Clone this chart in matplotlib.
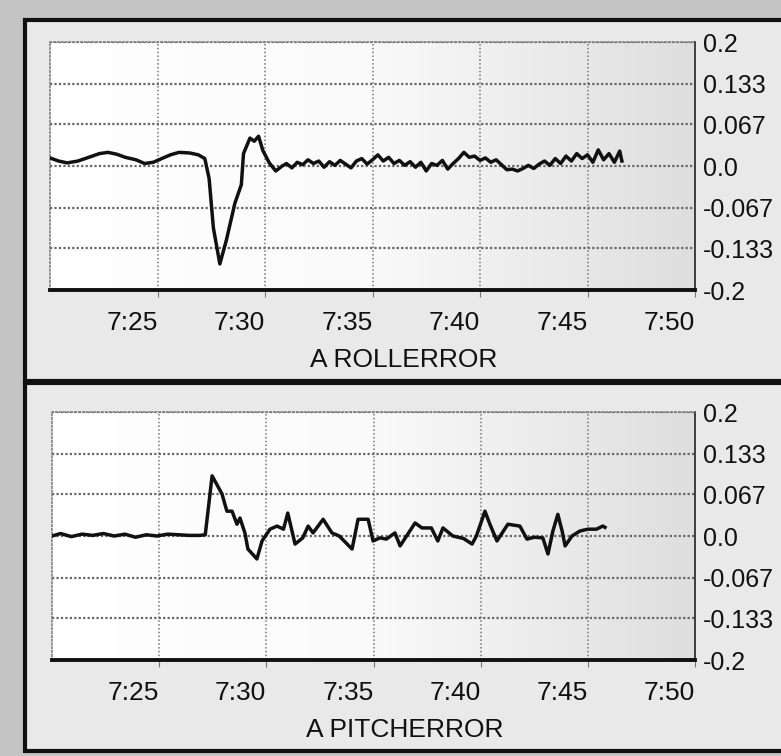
import numpy as np
import matplotlib
matplotlib.use("Agg")
import matplotlib.pyplot as plt
from matplotlib.patches import Rectangle

plt.rcParams['font.family'] = ['Liberation Sans Narrow', 'Liberation Sans', 'DejaVu Sans']

# time in minutes after 7:00
roll_t = [20.0, 20.4, 20.8, 21.3, 21.8, 22.3, 22.7, 23.1, 23.5, 24.0, 24.4, 24.8,
          25.2, 25.6, 26.0, 26.5, 26.9, 27.2, 27.4, 27.6, 27.9, 28.2, 28.6, 28.9,
          29.0, 29.3, 29.5, 29.7, 29.9, 30.2, 30.5, 30.8,
          31.0, 31.25, 31.5, 31.75, 32.0, 32.25, 32.5, 32.75, 33.0, 33.25, 33.5, 33.75,
          34.0, 34.25, 34.5, 34.75, 35.0, 35.25, 35.5, 35.75, 36.0, 36.25, 36.5, 36.75,
          37.0, 37.25, 37.5, 37.75, 38.0, 38.25, 38.5, 38.75, 39.0, 39.25, 39.5, 39.75,
          40.0, 40.25, 40.5, 40.75, 41.0, 41.25, 41.5, 41.75, 42.0, 42.25, 42.5, 42.75,
          43.0, 43.25, 43.5, 43.75, 44.0, 44.25, 44.5, 44.75, 45.0, 45.25, 45.5, 45.75,
          46.0, 46.25, 46.5, 46.6]
roll_v = [0.013, 0.008, 0.005, 0.008, 0.014, 0.020, 0.022, 0.019, 0.014, 0.010, 0.004, 0.006,
          0.012, 0.018, 0.022, 0.021, 0.018, 0.012, -0.020, -0.100, -0.158, -0.120, -0.060, -0.030,
          0.020, 0.045, 0.040, 0.048, 0.025, 0.005, -0.008, 0.000,
          0.004, -0.003, 0.006, 0.002, 0.010, 0.004, 0.008, -0.002, 0.007, 0.001, 0.009, 0.003,
          -0.003, 0.008, 0.012, 0.003, 0.010, 0.018, 0.008, 0.014, 0.004, 0.009, 0.001, 0.007,
          -0.002, 0.006, -0.008, 0.004, 0.001, 0.009, -0.005, 0.004, 0.012, 0.022, 0.014, 0.016,
          0.009, 0.013, 0.006, 0.010, 0.002, -0.006, -0.005, -0.008, -0.004, 0.001, -0.004, 0.003,
          0.008, 0.001, 0.012, 0.004, 0.016, 0.008, 0.020, 0.012, 0.018, 0.006, 0.026, 0.010,
          0.020, 0.006, 0.024, 0.008]

pitch_t = [20.0, 20.4, 20.9, 21.4, 21.9, 22.4, 22.9, 23.4, 23.9, 24.4, 24.9, 25.4,
           25.9, 26.4, 26.9, 27.15, 27.47, 27.93, 28.16, 28.4, 28.63, 28.77, 29.0, 29.14,
           29.56, 29.8, 30.17, 30.5, 30.8, 31.0, 31.34, 31.7, 31.95, 32.18, 32.65, 33.06,
           33.4, 34.0, 34.28, 34.75, 34.98, 35.3, 35.6, 36.0, 36.24, 36.94, 37.26, 37.7,
           38.0, 38.24, 38.7, 39.2, 39.6, 39.8, 40.2, 40.43, 40.76, 41.27, 41.83, 42.16,
           42.5, 42.9, 43.14, 43.37, 43.6, 43.8, 43.94, 44.26, 44.63, 45.0, 45.4, 45.7, 45.8]
pitch_v = [0.000, 0.004, -0.001, 0.003, 0.001, 0.004, 0.000, 0.003, -0.002, 0.002, 0.000, 0.003,
           0.002, 0.001, 0.001, 0.002, 0.097, 0.068, 0.040, 0.040, 0.019, 0.029, 0.005, -0.021,
           -0.037, -0.008, 0.011, 0.016, 0.011, 0.037, -0.013, -0.003, 0.016, 0.005, 0.027, 0.005,
           0.000, -0.021, 0.027, 0.027, -0.008, -0.003, -0.005, 0.005, -0.016, 0.021, 0.013, 0.013,
           -0.008, 0.013, 0.000, -0.004, -0.013, 0.000, 0.040, 0.019, -0.008, 0.019, 0.016, -0.005,
           -0.002, -0.003, -0.029, 0.008, 0.035, 0.008, -0.016, 0.000, 0.008, 0.011, 0.011, 0.016, 0.014]

x_ticks = [25, 30, 35, 40, 45, 50]
x_labels = ["7:25", "7:30", "7:35", "7:40", "7:45", "7:50"]
y_ticks = [0.2, 0.133, 0.067, 0.0, -0.067, -0.133, -0.2]
y_labels = ["0.2", "0.133", "0.067", "0.0", "-0.067", "-0.133", "-0.2"]

fig = plt.figure(figsize=(7.81, 7.56), dpi=100)
fig.patch.set_facecolor("#c4c4c4")

# the two scanned panel frames
for (y0, y1) in [(20, 381), (383, 751)]:
    fig.patches.append(Rectangle((25/781, 1 - y1/756), 1.0, (y1 - y0)/756,
                                 transform=fig.transFigure, facecolor="#e9e9e9",
                                 edgecolor="#111111", lw=3, zorder=-5))

grad = np.linspace(0, 1, 256).reshape(1, -1)
gray_cmap = matplotlib.colors.LinearSegmentedColormap.from_list("g", ["#ffffff", "#fafafa", "#dedede"])


def panel(rect, t, v, name):
    ax = fig.add_axes(rect)
    ax.imshow(grad, extent=[0, 1, 0, 1], transform=ax.transAxes, aspect="auto",
              cmap=gray_cmap, zorder=0)
    ax.plot(t, v, color="#111111", lw=2.5, zorder=3)
    ax.set_xlim(20, 50)
    ax.set_ylim(-0.2, 0.2)
    ax.set_xticks(x_ticks)
    ax.set_xticklabels(x_labels, ha="right")
    ax.set_yticks(y_ticks)
    ax.set_yticklabels(y_labels)
    ax.yaxis.tick_right()
    ax.tick_params(axis="y", length=0, pad=6, labelsize=18, labelcolor="#111111")
    ax.tick_params(axis="x", length=5, color="#777777", pad=10, labelsize=19, labelcolor="#111111")
    ax.grid(axis="y", color="#666666", lw=1.6, ls=(0, (1, 1)))
    ax.grid(axis="x", color="#777777", lw=1.1, ls=(0, (1, 1.5)))
    ax.spines["bottom"].set_linewidth(2.8)
    ax.spines["bottom"].set_color("#111111")
    ax.spines["right"].set_linewidth(1.3)
    ax.spines["right"].set_color("#333333")
    for s in ["left", "top"]:
        ax.spines[s].set_color("#777777")
        ax.spines[s].set_linestyle((0, (1, 1.5)))
        ax.spines[s].set_linewidth(1.1)
    ax.set_xlabel(name, fontsize=19, color="#111111")
    ax.xaxis.set_label_coords(0.548, -0.235)
    return ax


panel([50/781, 1 - 290/756, 645/781, 248/756], roll_t, roll_v, "A ROLLERROR")
panel([52/781, 1 - 660/756, 643/781, 248/756], pitch_t, pitch_v, "A PITCHERROR")

fig.savefig("out.png", dpi=100, facecolor=fig.get_facecolor())
